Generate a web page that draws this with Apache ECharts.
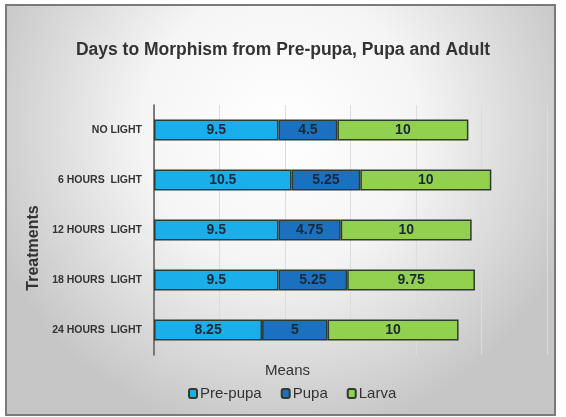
<!DOCTYPE html>
<html>
<head>
<meta charset="utf-8">
<script src="https://cdn.jsdelivr.net/npm/echarts@6/dist/echarts.min.js"></script>
<style>
html,body{margin:0;padding:0;background:#fff}
#main{width:566px;height:417px}
</style>
</head>
<body>
<div id="main"></div>
<script>
// data
var treatments = ['NO LIGHT', '6 HOURS  LIGHT', '12 HOURS  LIGHT', '18 HOURS  LIGHT', '24 HOURS  LIGHT'];
var prePupa = [9.5, 10.5, 9.5, 9.5, 8.25];
var pupa = [4.5, 5.25, 4.75, 5.25, 5];
var larva = [10, 10, 10, 9.75, 10];

var narrow = '"Liberation Sans Narrow", "Arial Narrow", "Liberation Sans", sans-serif';

var chart = echarts.init(document.getElementById('main'));

function barSeries(name, data, color) {
    return {
        name: name,
        type: 'bar',
        stack: 'total',
        barWidth: 21,
        data: data,
        itemStyle: { color: color, borderColor: '#2f3b2c', borderWidth: 1.5 },
        label: {
            show: true,
            position: 'inside',
            color: '#1b2838',
            fontFamily: narrow,
            fontWeight: 'bold',
            fontSize: 14
        }
    };
}

chart.setOption({
    animation: false,
    graphic: [{
        type: 'rect',
        z: -10,
        shape: { x: 6, y: 5, width: 549, height: 410 },
        style: {
            fill: {
                type: 'radial', x: 0.5, y: 0.3, r: 0.75,
                colorStops: [
                    { offset: 0, color: '#ffffff' },
                    { offset: 0.45, color: '#f5f5f5' },
                    { offset: 1, color: '#c6c6c6' }
                ]
            },
            stroke: '#7a7a7a',
            lineWidth: 2
        }
    }],
    title: {
        text: 'Days to Morphism from Pre-pupa, Pupa and Adult',
        left: 'center',
        top: 36,
        textStyle: { fontFamily: narrow, fontWeight: 'bold', fontSize: 17.5, color: '#333333' }
    },
    legend: {
        data: ['Pre-pupa', 'Pupa', 'Larva'],
        left: 183,
        top: 381,
        itemWidth: 8,
        itemHeight: 9,
        itemGap: 19,
        textStyle: { fontFamily: narrow, fontSize: 15, color: '#333333', padding: [0, 0, 0, -2] }
    },
    grid: { left: 154, right: 19, top: 105, bottom: 62 },
    xAxis: {
        type: 'value',
        min: 0,
        max: 30,
        interval: 5,
        name: 'Means',
        nameLocation: 'middle',
        nameGap: 8,
        nameTextStyle: { fontFamily: narrow, fontSize: 15, color: '#333333', padding: [0, 126, 0, 0] },
        axisLabel: { show: false },
        axisLine: { show: false },
        axisTick: { show: false },
        splitLine: { lineStyle: { color: '#dcdcdc', width: 1 } }
    },
    yAxis: {
        type: 'category',
        inverse: true,
        data: treatments,
        name: 'Treatments',
        nameLocation: 'middle',
        nameGap: 112,
        nameTextStyle: { fontFamily: narrow, fontWeight: 'bold', fontSize: 16, color: '#333333', padding: [0, 36, 0, 0] },
        axisLine: { show: true, lineStyle: { color: '#595959', width: 1.5 } },
        axisTick: { show: false },
        axisLabel: { fontFamily: narrow, fontWeight: 'bold', fontSize: 10.5, color: '#333333', margin: 12 }
    },
    series: [
        barSeries('Pre-pupa', prePupa, '#1aaeea'),
        barSeries('Pupa', pupa, '#1c70c0'),
        barSeries('Larva', larva, '#92d050')
    ]
});
</script>
</body>
</html>
